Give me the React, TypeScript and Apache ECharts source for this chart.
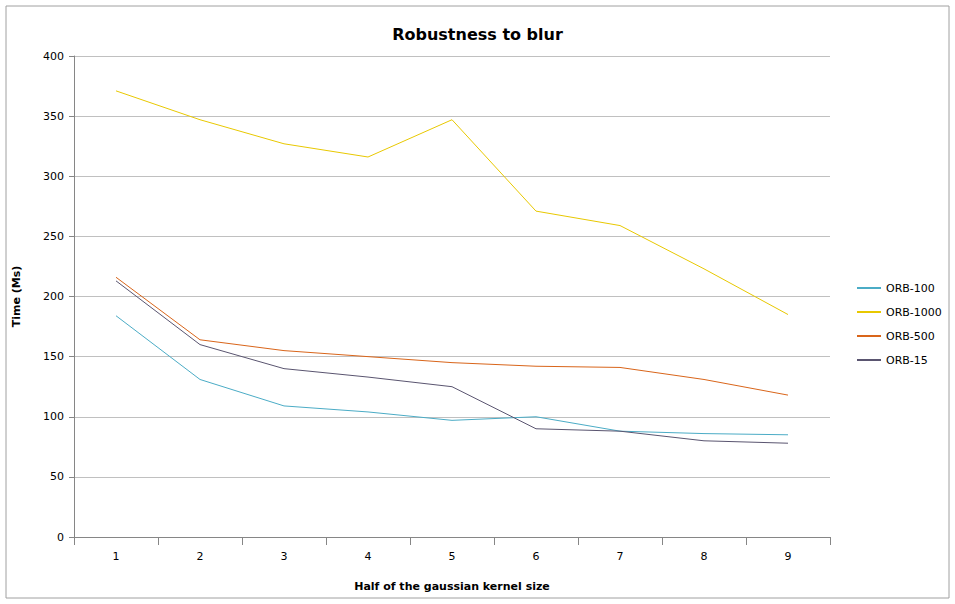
import React, { useRef, useEffect } from 'react';
import * as echarts from 'echarts';

const categories = ['1', '2', '3', '4', '5', '6', '7', '8', '9'];
const orb100 = [184, 131, 109, 104, 97, 100, 88, 86, 85];
const orb1000 = [371, 347, 327, 316, 347, 271, 259, 223, 185];
const orb500 = [216, 164, 155, 150, 145, 142, 141, 131, 118];
const orb15 = [213, 160, 140, 133, 125, 90, 88, 80, 78];

const font = 'Verdana, "DejaVu Sans", sans-serif';

const App: React.FC = () => {
  const chartRef = useRef<HTMLDivElement>(null);

  useEffect(() => {
    if (!chartRef.current) return;
    const chart = echarts.init(chartRef.current, undefined, { renderer: 'svg' });

    const line = (name: string, data: number[], color: string) => ({
      name,
      type: 'line',
      data,
      symbol: 'none',
      lineStyle: { color, width: 1 },
      itemStyle: { color }
    });

    chart.setOption({
      animation: false,
      backgroundColor: '#fff',
      graphic: [
        {
          type: 'rect',
          shape: { x: 6, y: 6, width: 943, height: 592 },
          style: { fill: 'none', stroke: '#a0a0a0', lineWidth: 1 }
        }
      ],
      title: {
        text: 'Robustness to blur',
        left: 'center',
        top: 21,
        textStyle: { fontFamily: font, fontSize: 16, fontWeight: 'bold', color: '#000' }
      },
      legend: {
        orient: 'vertical',
        left: 852,
        top: 276,
        itemGap: 10,
        itemWidth: 24,
        itemHeight: 2,
        icon: 'rect',
        textStyle: { fontFamily: font, fontSize: 11, color: '#000', lineHeight: 14 },
        data: ['ORB-100', 'ORB-1000', 'ORB-500', 'ORB-15']
      },
      grid: { left: 74, right: 125, top: 56, bottom: 67 },
      xAxis: {
        type: 'category',
        data: categories,
        boundaryGap: true,
        name: 'Half of the gaussian kernel size',
        nameLocation: 'middle',
        nameGap: 44,
        nameTextStyle: { fontFamily: font, fontSize: 11, fontWeight: 'bold', color: '#000' },
        axisLine: { lineStyle: { color: '#868686' } },
        axisTick: { show: true, length: 8, lineStyle: { color: '#868686' } },
        axisLabel: { fontFamily: font, fontSize: 11, color: '#000', margin: 14 }
      },
      yAxis: {
        type: 'value',
        min: 0,
        max: 400,
        interval: 50,
        name: 'Time (Ms)',
        nameLocation: 'middle',
        nameGap: 52,
        nameTextStyle: { fontFamily: font, fontSize: 11, fontWeight: 'bold', color: '#000' },
        axisLine: { show: true, lineStyle: { color: '#868686' } },
        axisTick: { show: true, length: 5, lineStyle: { color: '#868686' } },
        axisLabel: { fontFamily: font, fontSize: 11, color: '#000', margin: 10 },
        splitLine: { lineStyle: { color: '#c0c0c0' } }
      },
      series: [
        line('ORB-100', orb100, '#4bacc6'),
        line('ORB-1000', orb1000, '#e8c800'),
        line('ORB-500', orb500, '#d9651a'),
        line('ORB-15', orb15, '#5a5570')
      ]
    });

    return () => chart.dispose();
  }, []);

  return (
    <div
      ref={chartRef}
      style={{ position: 'absolute', left: 0, top: 0, width: 955, height: 604 }}
    />
  );
};

export default App;
